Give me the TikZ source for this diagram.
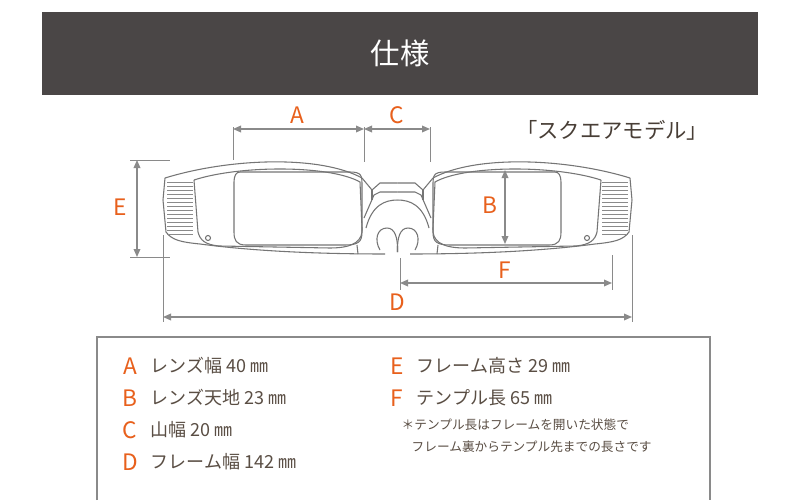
\documentclass[tikz,border=0pt]{standalone}
\usepackage{fontspec}
\setmainfont{Noto Sans CJK JP}
\usetikzlibrary{arrows.meta}
\definecolor{hdr}{HTML}{4A4646}
\definecolor{org}{HTML}{E8601C}
\definecolor{txt}{HTML}{5A4E44}
\definecolor{ln}{HTML}{8A8A8A}
\tikzset{
 dim/.style={draw=ln,line width=0.9pt,{Triangle[length=6pt,width=5pt]}-{Triangle[length=6pt,width=5pt]}},
 ext/.style={draw=ln,line width=0.7pt},
 fr/.style={draw=ln!85!black,line width=0.8pt},
 let/.style={text=org,font=\fontsize{17}{17}\selectfont},
 item/.style={text=txt,font=\fontsize{13.5}{14}\selectfont,anchor=west},
 note/.style={text=txt,font=\fontsize{9.5}{11}\selectfont,anchor=west}
}
\begin{document}
\begin{tikzpicture}[x=0.75pt,y=-0.75pt]
\useasboundingbox (0,0) rectangle (800,500);
\fill[white] (0,0) rectangle (800,500);
\fill[hdr] (42,12) rectangle (758,95);
\node[text=white,font=\fontsize{22}{22}\selectfont] (title) at (400,53) {仕様};
\node[text=txt!80!black,font=\fontsize{16}{16}\selectfont] (model) at (612,130) {「スクエアモデル」};
% glasses
\foreach \s in {1,-1}{
\begin{scope}[xshift=397.5*0.75pt*(1-\s),xscale=\s]
\draw[fr] (165,178) .. controls (230,158) and (320,155) .. (362,178) -- (372,190) -- (380,183) -- (397.5,183);
\draw[fr] (165,178) -- (163,200) -- (166,232) .. controls (172,240) and (180,242) .. (200,244) .. controls (260,252) and (330,254) .. (385,254);
\draw[fr] (194,180) .. controls (240,165) and (330,165) .. (360,182) -- (362,228) .. controls (363,240) and (355,248) .. (330,248) -- (220,246) .. controls (205,245) and (200,240) .. (198,232) -- (194,180);
\draw[fr] (240,172) -- (350,172) .. controls (362,172) and (362,176) .. (362,186) -- (362,232) .. controls (362,242) and (358,245) .. (345,245) -- (246,245) .. controls (236,245) and (234,240) .. (234,232) -- (234,182) .. controls (234,176) and (236,172) .. (240,172);
\foreach \y in {182,186,...,234} \draw[ln,line width=0.5pt] (167,\y) -- (193,\y);
\draw[fr] (372,190) -- (372,200);
\draw[fr] (366,228) .. controls (372,205) and (385,200) .. (397.5,200);
\draw[fr] (364,218) -- (374,195) -- (380,192) -- (397.5,192);
\draw[fr] (397.5,252) .. controls (398,238) and (395,228) .. (387,228) .. controls (377,228) and (374,240) .. (380,250);
\draw[fr] (208,238) circle (2.5);
\draw[fr] (357,245) -- (358,254);
\end{scope}}
% dimensions
\draw[ext] (233,127) -- (233,160); \draw[ext] (364,127) -- (364,162); \draw[ext] (430,127) -- (430,162);
\draw[dim] (233,129) -- (364,129); \draw[dim] (364,129) -- (430,129);
\node[let] (A) at (297,115) {A}; \node[let] (C) at (397,115) {C};
\draw[ext] (130,160) -- (170,160); \draw[ext] (130,257) -- (170,257);
\draw[dim] (137,160) -- (137,257); \node[let] (E) at (120,207) {E};
\draw[dim] (505,170) -- (505,244); \node[let] (B) at (490,205) {B};
\draw[ext] (400,258) -- (400,290); \draw[ext] (612,255) -- (612,290);
\draw[dim] (400,283) -- (612,283); \node[let] (F) at (505,270) {F};
\draw[ext] (163,235) -- (163,322); \draw[ext] (632,235) -- (632,322);
\draw[dim] (163,317) -- (632,317); \node[let] (D) at (397,302) {D};
% legend box
\draw[ln,line width=1pt] (97,500) -- (97,337) -- (710,337) -- (710,500);
\foreach \l/\t/\y in {A/レンズ幅 40 ㎜/366, B/レンズ天地 23 ㎜/398, C/山幅 20 ㎜/430, D/フレーム幅 142 ㎜/462}{
 \node[let] (L\l) at (130,\y) {\l}; \node[item] (T\l) at (146,\y) {\t};}
\foreach \l/\t/\y in {E/フレーム高さ 29 ㎜/366, F/テンプル長 65 ㎜/398}{
 \node[let] (L\l) at (397,\y) {\l}; \node[item] (T\l) at (412,\y) {\t};}
\node[note] (n1) at (397,425) {＊テンプル長はフレームを開いた状態で};
\node[note] (n2) at (407,447) {フレーム裏からテンプル先までの長さです};
\end{tikzpicture}
\end{document}
